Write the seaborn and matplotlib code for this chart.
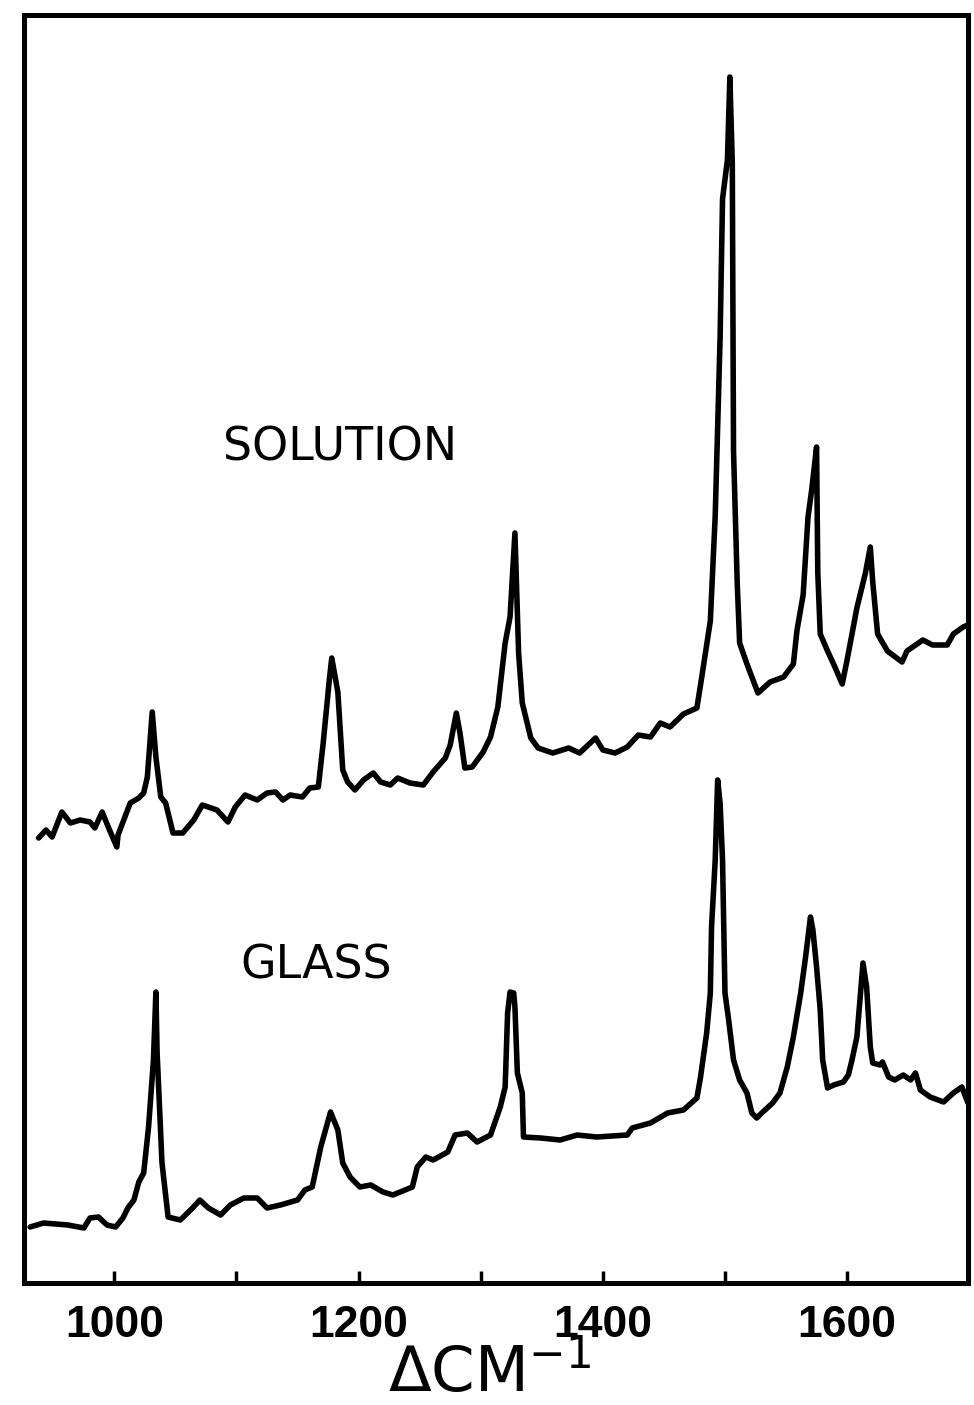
import numpy as np
import pandas as pd
import matplotlib
matplotlib.use("Agg")
import matplotlib.pyplot as plt
import seaborn as sns

# Raman shift (cm^-1) and intensity (arbitrary units)
solution_shift = [938, 944, 949, 957, 964, 972, 980, 984, 990, 995, 1002, 1003, 1013, 1020, 1024, 1027,
                  1031, 1034, 1038, 1042, 1048, 1056, 1065, 1072, 1084, 1093, 1099, 1107, 1117, 1125,
                  1132, 1138, 1144, 1154, 1160, 1167, 1171, 1176, 1178, 1183, 1187, 1191, 1197, 1204,
                  1212, 1218, 1226, 1232, 1242, 1253, 1261, 1271, 1275, 1280, 1283, 1287, 1293, 1302,
                  1308, 1314, 1320, 1324, 1328, 1331, 1334, 1341, 1347, 1359, 1372, 1381, 1394, 1400,
                  1410, 1420, 1429, 1439, 1447, 1455, 1466, 1477, 1481, 1488, 1492, 1496, 1498, 1502,
                  1504, 1506, 1507, 1510, 1512, 1518, 1527, 1537, 1548, 1556, 1559, 1564, 1568, 1571,
                  1575, 1576, 1578, 1584, 1590, 1596, 1600, 1608, 1615, 1619, 1621, 1625, 1633, 1645,
                  1649, 1662, 1670, 1682, 1687, 1695, 1703]
solution_int = [445, 453, 446, 471, 460, 463, 461, 455, 471, 456, 436, 448, 480, 485, 490, 506,
                571, 526, 486, 480, 450, 450, 463, 478, 473, 461, 476, 488, 483, 490,
                491, 483, 488, 486, 495, 496, 540, 603, 625, 591, 513, 501, 493, 503,
                510, 501, 498, 505, 500, 498, 511, 525, 538, 570, 550, 515, 516, 531,
                546, 576, 640, 666, 750, 630, 580, 545, 535, 530, 535, 530, 545, 533,
                530, 536, 548, 546, 560, 556, 569, 575, 606, 662, 767, 945, 1084, 1123,
                1206, 1119, 832, 701, 640, 619, 590, 601, 606, 619, 653, 688, 766, 793,
                836, 710, 649, 632, 616, 599, 623, 675, 710, 736, 701, 649, 632, 621,
                632, 643, 638, 638, 649, 656, 660]

glass_shift = [931, 942, 962, 975, 980, 987, 994, 1001, 1007, 1011, 1016, 1020, 1024, 1028, 1032,
               1034, 1035, 1039, 1044, 1054, 1064, 1070, 1077, 1087, 1095, 1106, 1117, 1125, 1136,
               1150, 1156, 1162, 1169, 1177, 1183, 1187, 1193, 1201, 1210, 1220, 1228, 1244, 1248,
               1255, 1261, 1273, 1279, 1289, 1297, 1308, 1316, 1320, 1322, 1324, 1327, 1328, 1330,
               1334, 1335, 1349, 1365, 1379, 1395, 1420, 1424, 1439, 1453, 1466, 1477, 1480, 1485,
               1488, 1489, 1492, 1494, 1496, 1498, 1500, 1503, 1507, 1512, 1518, 1522, 1526, 1531,
               1539, 1545, 1551, 1556, 1562, 1566, 1570, 1572, 1575, 1578, 1580, 1584, 1589, 1597,
               1601, 1604, 1608, 1611, 1613, 1616, 1619, 1621, 1627, 1629, 1634, 1639, 1646, 1652,
               1656, 1660, 1668, 1679, 1687, 1694, 1699]
glass_int = [56, 60, 58, 55, 65, 66, 58, 56, 65, 75, 83, 101, 110, 156, 223,
             291, 230, 120, 66, 63, 75, 83, 75, 68, 78, 85, 85, 75, 78,
             83, 93, 96, 136, 171, 153, 120, 106, 96, 98, 91, 88, 96, 116,
             126, 123, 131, 148, 150, 141, 148, 176, 196, 270, 291, 290, 276, 210,
             190, 146, 145, 143, 148, 146, 148, 155, 160, 170, 173, 185, 206, 250,
             290, 356, 423, 503, 480, 423, 290, 263, 223, 203, 190, 170, 165, 171,
             180, 190, 216, 246, 290, 326, 366, 353, 316, 273, 223, 195, 198, 201,
             208, 223, 246, 290, 320, 296, 236, 220, 218, 221, 206, 203, 208, 203,
             210, 193, 186, 181, 190, 196, 180]

major_ticks = [1000, 1200, 1400, 1600]
minor_ticks = [1100, 1300, 1500]
tick_labels = ["1000", "1200", "1400", "1600"]
series_labels = ["SOLUTION", "GLASS"]
axis_label = r"ΔCM$^{\mathregular{-1}}$"

sns.set_style("white")
plt.rcParams["font.family"] = ["Liberation Sans", "DejaVu Sans"]
plt.rcParams["text.color"] = "black"
plt.rcParams["xtick.color"] = "black"

fig = plt.figure(figsize=(9.74, 14.05), dpi=100)
ax = fig.add_axes([24 / 974, 122 / 1405, 944 / 974, 1268 / 1405])

df_sol = pd.DataFrame({"shift": solution_shift, "intensity": solution_int})
df_gla = pd.DataFrame({"shift": glass_shift, "intensity": glass_int})
sns.lineplot(data=df_sol, x="shift", y="intensity", sort=False, estimator=None,
             color="black", linewidth=4.0, ax=ax)
sns.lineplot(data=df_gla, x="shift", y="intensity", sort=False, estimator=None,
             color="black", linewidth=4.0, ax=ax)

ax.set_xlim(926, 1699)
ax.set_ylim(0, 1268)

ax.text(1185, 835, series_labels[0], fontsize=33, ha="center", va="center",
        color="black", family=["DejaVu Sans"])
ax.text(1165, 317, series_labels[1], fontsize=33, ha="center", va="center",
        color="black", family=["DejaVu Sans"])

ax.set_xticks(major_ticks)
ax.set_xticklabels(tick_labels, fontsize=32, fontweight="bold", color="black")
ax.set_xticks(minor_ticks, minor=True)
ax.tick_params(axis="x", which="both", direction="in", length=9, width=2.5,
               pad=16, bottom=True, colors="black")
ax.set_yticks([])
ax.set_ylabel("")
ax.set_xlabel("")
fig.text(490 / 974, 0, axis_label, fontsize=45, ha="center", va="bottom",
         color="black", family=["DejaVu Sans"])

for s in ax.spines.values():
    s.set_visible(True)
    s.set_color("black")
    s.set_linewidth(3.6)

fig.savefig("out.png", dpi=100, facecolor="white")
